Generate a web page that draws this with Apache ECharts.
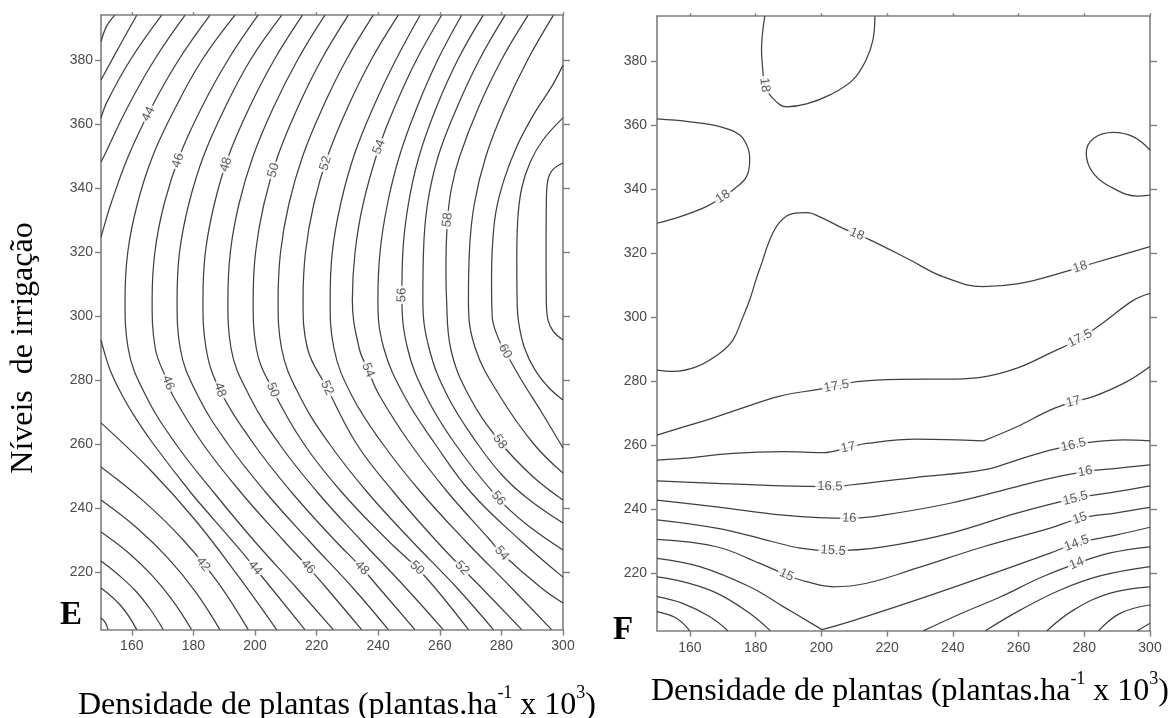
<!DOCTYPE html>
<html><head><meta charset="utf-8">
<script src="https://cdn.jsdelivr.net/npm/echarts@6/dist/echarts.min.js"></script>
<style>html,body{margin:0;padding:0;background:#fff}#c{width:1169px;height:718px}</style>
</head><body><div id="c"></div>
<script>
// ---------- axes ----------
const xTicks = [160,180,200,220,240,260,280,300];
const yTicks = [220,240,260,280,300,320,340,360,380];
const xRange = [150,300];
const yRange = [202,394];

// ---------- panel E : contour lines [x, y] ----------
const e37 = [[150,205.6],[151.4,204.2],[152.3,202]];
const e38 = [[150,215],[156.6,209.3],[161.6,202]];
const e39 = [[150,223.4],[155.9,218.9],[161.4,213.9],[166.1,208.2],[170.2,202]];
const e40 = [[150,232.5],[158.7,226.2],[166.5,219],[173.4,210.9],[179.4,202]];
const e41 = [[150,242.5],[161.4,234],[171.6,224.5],[180.7,213.8],[188.6,202]];
const e42 = [[150,252.8],[164,242],[176.7,230],[188,216.7],[197.8,202]];
const e40u = [[154.5,394],[151.8,390.5],[150,385.7]];
const e41u = [[161.6,394],[155.8,384],[150,373.75]];
const e42u = [[169.7,394],[159.5,380],[152,367],[150,361.9]];
const e43u = [[177.3,394],[167.3,380],[158.5,365],[151,350],[150,348.1]];
const e43 = [[150,266.6],[166.1,251.8],[180.7,236.1],[194.1,219.3],[207,202]];
const e44u = [[185.4,394],[175.2,380],[166.3,365],[158.9,350],[153.2,335],[151,328],[150,324.7]];
const e44 = [[150,292.5],[151,289],[153,283],[157,275],[161.3,268],[167,260],[179,245],[187,236],[194.2,228],[200,221.25],[216.2,202]];
const e45 = [[193.5,394],[182.8,380],[174.1,365],[166.8,350],[161.8,335],[158.7,320],[157.8,305],[158.8,290],[164.6,275],[174.3,260],[186.5,245],[199.5,230],[213.5,215],[225.4,202]];
const e46 = [[201,394],[191.2,380],[182.6,365],[175.5,350],[170.5,335],[167.5,320],[166.6,305],[167.6,290],[171.8,279.1],[173.4,275],[183.1,260],[195.3,245],[209.1,230],[217.2,221.6],[223.2,215],[234.6,202]];
const e47 = [[208.7,394],[198.5,380],[190.2,365],[183.3,350],[178.5,335],[175.5,320],[174.7,305],[175.7,290],[181.5,275],[191.2,260],[203.4,245],[217.3,230],[231.8,215],[243.3,202]];
const e48 = [[215.4,394],[206.2,380],[198.1,365],[191.4,350],[186.8,335],[183.9,320],[183.1,305],[184.1,290],[188.6,276.9],[199.6,260],[211.8,245],[225.8,230],[234.7,221.25],[240.3,215],[251.9,202]];
const e49 = [[222.7,394],[213.8,380],[205.9,365],[199.4,350],[194.8,335],[192,320],[191.2,305],[192.2,290],[198.2,275],[207.9,260],[220.2,245],[234.3,230],[249,215],[261.1,202]];
const e50 = [[230.3,394],[221.5,380],[213.8,365],[207.4,350],[202.9,335],[200.2,320],[199.4,305],[200.4,290],[205.8,276.9],[215.9,260],[228.1,245],[243,230],[252.6,221.25],[258.5,215],[269.3,202]];
const e51 = [[238.4,394],[229.6,380],[221.9,365],[215.5,350],[211,335],[208.3,320],[207.5,305],[208.6,290],[214.5,275],[224.2,260],[236.4,245],[250.6,230],[265.6,215],[277.4,202]];
const e52 = [[246.5,394],[237.7,380],[230,365],[223.6,350],[219.1,335],[216.4,320],[215.6,305],[217,290],[223.4,277.5],[233,260],[245,245],[258.6,230],[267.2,221.25],[273.6,215],[286.6,202]];
const e53 = [[253.6,394],[245.7,380],[238.3,365],[232.1,350],[227.8,335],[225.1,320],[224.4,305],[225.6,290],[231.5,275],[241.5,260],[253.8,245],[268,230],[283.3,215],[296.3,202]];
const e54 = [[260.6,394],[252.4,380],[245.2,365],[240.3,352.8],[235.1,335],[232.5,320],[231.6,305],[233.8,290],[236.7,283.1],[240.5,275],[250.5,260],[262.5,245],[276.3,230],[280.1,225.8],[293,215],[300,210.3]];
const e55 = [[267.1,394],[259.3,380],[252.5,365],[246.9,350],[243,335],[240.6,320],[239.9,305],[241.8,290],[248.5,275],[258.5,260],[270,245],[286,230],[300,218.4]];
const e56 = [[274.1,394],[265.8,380],[258.8,365],[253.3,350],[249.8,335],[248,320],[247.7,306.6],[249.5,290],[255.5,275],[265,260],[279,243],[288,235],[300,226.9]];
const e57 = [[281.2,394],[272.8,380],[265.5,365],[259.5,350],[256,335],[254.7,320],[254.5,305],[256.5,290],[262.5,275],[272.3,260],[280.5,250],[288.5,243],[300,235.3]];
const e58 = [[288.7,394],[280,380],[272.5,365],[266.5,350],[263.8,340],[262.5,330],[262,315],[262.2,305],[263.5,290],[269.5,275],[279.5,260.7],[290,250],[300,242.5]];
const e59 = [[296.9,394],[288.5,380],[281,365],[275,350],[271.2,335],[269.6,320],[269.3,305],[271.5,290],[279.5,275],[290.5,260],[300,250.9]];
const e60 = [[300,378.4],[296.5,372],[290.5,363],[285,353],[281,343],[278.3,333],[277.1,322],[276.8,311],[277,300],[279,293],[281.2,289],[286.5,280],[293,270],[300,258.75]];
const e61 = [[300,361.9],[293.5,355],[289.3,348],[286.6,340],[285.3,330],[285,318],[285.1,305],[285.6,298],[287.5,290],[291,283],[295.5,277.5],[300,273.75]];
const e62 = [[300,347.8],[296.5,345.5],[295,342],[294.6,336],[294.5,320],[294.6,304],[295.2,298.5],[297,295],[300,292.5]];

const contoursE = [[37,e37],[38,e38],[39,e39],[40,e40],[41,e41],[42,e42],[40,e40u],[41,e41u],[42,e42u],
  [43,e43u],[43,e43],[44,e44u],[44,e44],[45,e45],[46,e46],[47,e47],[48,e48],[49,e49],[50,e50],[51,e51],
  [52,e52],[53,e53],[54,e54],[55,e55],[56,e56],[57,e57],[58,e58],[59,e59],[60,e60],[61,e61],[62,e62]];

// contour labels E: [level, x, y]
const labelsE = [[44,167.5,362.2],[46,176.6,348.1],[48,191.2,347.2],[50,205.8,345.6],[52,222.7,347.8],[54,240.3,352.8],
  [58,262.7,330],[56,247.7,306.6],[60,281.5,289.1],
  [46,171.8,279.1],[48,188.6,276.9],[50,205.8,276.9],[52,223.4,277.5],[54,236.7,283.1],
  [58,279.5,260.7],[56,279,243],[54,280.1,225.8],
  [42,182.1,221.6],[44,200,221.25],[46,217.2,221.6],[48,234.7,221.25],[50,252.6,221.25],[52,267.2,221.25]];

// ---------- panel F : contour lines [x, y] ----------
const f18a = [[182.8,394],[181.8,383.4],[182.2,377.2],[182.8,372.5],[185.2,368.4],[189.4,365.7],[195.5,366.6],[202.6,369.4],[209.6,374.1],[213.6,380.3],[215.7,386.6],[216.3,394]];
const f18b = [[150,361.9],[160,361],[169.1,359.5],[175.2,356.9],[177.7,352.7],[178.2,349],[177.2,343.8],[173.1,339.7],[170.1,337.6],[165,334.5],[156.9,331.3],[150,329.3]];
const f18c = [[150,283.4],[154.8,283],[162.1,284.5],[169.1,288.7],[173.1,292.8],[175.8,299.1],[178.2,305.3],[180.1,311.6],[181.9,316.9],[184.3,324.1],[187.4,329.7],[191.3,332.3],[195.6,332.6],[200.5,330.8],[206.6,327.7],[214.8,324.1],[227,317.8],[237,312.6],[249.2,309.5],[260.5,310.5],[272.7,313.7],[282.7,316.8],[300,322]];
const f18d = [[300,352.2],[295,356.3],[288.9,357.7],[282.8,355.8],[280.6,351.2],[282.8,344.9],[288.9,340.2],[296,337.8],[300,338.1]];
const f175 = [[150,263.1],[156.9,265.3],[166,268.1],[175.2,271.3],[187.4,275.3],[198.6,277.3],[204.7,278.4],[210.8,279.8],[224,280.5],[239,280.6],[249,281.2],[259.5,284],[269.6,288.7],[278.7,293.3],[284.8,297.5],[294.9,305.2],[300,307.4]];
const f17a = [[150,255.3],[157.9,255.8],[173.1,257.4],[188.4,257.9],[200.6,257.6],[208.2,259.2],[213.8,260.5],[229,261.8],[249.3,261.3]];
const f17b = [[249.3,261.3],[259.5,265.7],[269.6,270.9],[276.6,273.5],[282.7,275.1],[293,279.8],[300,284.5]];
const f165 = [[150,248.8],[168.1,248],[188.4,247.2],[202.6,247],[208.7,247.5],[229,249.9],[249.3,252.2],[259.5,255.3],[269.6,258.4],[276.7,260],[282.8,261],[291.9,261.6],[300,261.3]];
const f16 = [[150,242.8],[168.1,240.7],[188.4,238.1],[208.5,237.1],[218.8,238.1],[239.2,241.8],[259.5,247],[269.6,249.6],[280.3,251.7],[289.9,252.7],[300,253.8]];
const f155 = [[150,236.6],[168.1,234],[183.3,230.3],[193.5,227.8],[203.6,227],[218.8,228.2],[239.2,232.4],[259.5,238.7],[277.3,243.3],[289.9,245.4],[300,247.2]];
const f15 = [[150,230.5],[168.1,228.2],[181.3,223],[189.4,219.4],[195.5,217.3],[203.6,215.7],[213.8,216.8],[229,221.5],[249.3,228.2],[269.6,234],[278.7,237.1],[289.9,238.8],[300,240.5]];
const f145a = [[150,224.6],[163,222],[178.2,215.7],[188.4,209.5],[200.2,202.3]];
const f145b = [[200.2,202.3],[208.7,204.8],[229,211.6],[249.3,218.8],[269.6,226.2],[277.7,229.3],[289.9,231.9],[300,234.3]];
const f14a = [[150,218.8],[157.8,217.3],[168.2,213.7],[178.2,207.4],[184.5,201.9]];
const f14b = [[231,201.9],[242.2,207.2],[254.4,212.5],[266.6,218.5],[277.7,223],[287.9,226.3],[300,228.2]];
const f135a = [[150,212.6],[157.8,210.5],[166.1,206.3],[171.6,201.9]];
const f135b = [[249.8,201.9],[260.5,208.4],[272.7,214.7],[284.8,219.1],[300,222]];
const f13a = [[150,207.9],[156,205.8],[160,201.9]];
const f13b = [[268.6,201.9],[276.7,208.4],[287.9,213.7],[300,215.7]];
const f125 = [[284.3,201.9],[290.9,207.4],[300,210]];
const f12 = [[296,201.9],[300,204.3]];

const contoursF = [[18,f18a],[18,f18b],[18,f18c],[18,f18d],[17.5,f175],[17,f17a],[17,f17b],[16.5,f165],[16,f16],
  [15.5,f155],[15,f15],[14.5,f145a],[14.5,f145b],[14,f14a],[14,f14b],[13.5,f135a],[13.5,f135b],[13,f13a],[13,f13b],
  [12.5,f125],[12,f12]];

const labelsF = [[18,182.8,372.5],[18,170.1,337.6],[18,210.7,325.6],[18,278.7,315.7],[17.5,204.6,278.4],[17.5,278.7,293.3],
  [17,208.2,259],[17,276.7,273.5],[16.5,202.6,247],[16.5,276.7,260],[16,208.5,237.1],[16,280.3,251.7],
  [15.5,203.6,227],[15.5,277.3,243.3],[15,189.4,219.4],[15,278.7,237.1],[14.5,277.7,229.3],[14,277.7,223]];

// ---------- chart ----------
const chart = echarts.init(document.getElementById('c'), null, {renderer:'canvas', width:1169, height:718});
const AX = '#7f7f7f';
const LBL = {color:'#4a4a4a', fontSize:14, fontFamily:'"Liberation Sans", Arial, sans-serif'};
function mkX(g, pos, show, len, margin){
  return {type:'value', gridIndex:g, position:pos, min:xRange[0], max:xRange[1],
    axisLine:{show:true, onZero:false, lineStyle:{color:AX, width:1.6}},
    axisTick:{show:true, inside:false, length:len, customValues:xTicks, lineStyle:{color:AX, width:1.4}},
    axisLabel:Object.assign({show:show, customValues:xTicks, margin:margin}, LBL),
    splitLine:{show:false}};
}
function mkY(g, pos, show, len, margin){
  return {type:'value', gridIndex:g, position:pos, min:yRange[0], max:yRange[1],
    axisLine:{show:true, onZero:false, lineStyle:{color:AX, width:1.6}},
    axisTick:{show:true, inside:false, length:len, customValues:yTicks, lineStyle:{color:AX, width:1.4}},
    axisLabel:Object.assign({show:show, customValues:yTicks, margin:margin}, LBL),
    splitLine:{show:false}};
}
function lineS(pts, ai){
  return {type:'line', xAxisIndex:ai, yAxisIndex:ai, data:pts, smooth:0.4, symbol:'none', silent:true,
    lineStyle:{color:'#404040', width:1.25}, z:2, clip:true};
}
function labS(id, ai){
  return {id:id, type:'scatter', xAxisIndex:ai, yAxisIndex:ai, data:[], symbol:'circle', symbolSize:1, silent:true, z:10,
    itemStyle:{color:'rgba(0,0,0,0)'},
    label:{show:true, position:'inside', formatter:'{b}', color:'#333', fontSize:13,
      fontFamily:'"Liberation Sans", Arial, sans-serif', backgroundColor:'#fff', padding:[0,2]}};
}
const series = [];
contoursE.forEach(c => series.push(lineS(c[1], 0)));
series.push(labS('labE', 0));
const firstF = series.length;
contoursF.forEach(c => series.push(lineS(c[1], 2)));
series.push(labS('labF', 2));

const serif = '"Liberation Serif", "Times New Roman", serif';
const titleRich = {
  n:{fontSize:32, fontFamily:serif, lineHeight:37, verticalAlign:'bottom', color:'#000'},
  s:{fontSize:18, fontFamily:serif, lineHeight:22, verticalAlign:'top', color:'#000'}
};
const xTitle = '{n|Densidade de plantas (plantas.ha}{s|-1}{n| x 10}{s|3}{n|)}';

chart.setOption({
  animation:false,
  backgroundColor:'#fff',
  grid:[{left:101, top:15.2, width:462, height:614.4, containLabel:false, outerBoundsMode:'none'},
        {left:657, top:16.2, width:493, height:614.4, containLabel:false, outerBoundsMode:'none'}],
  xAxis:[mkX(0,'bottom',true,6,10), mkX(0,'top',false,3,8), mkX(1,'bottom',true,6,11), mkX(1,'top',false,3,8)],
  yAxis:[mkY(0,'left',true,6,8), mkY(0,'right',false,7,8), mkY(1,'left',true,6,10), mkY(1,'right',false,7,8)],
  series: series,
  graphic:[
    {type:'text', x:24, y:348, rotation:Math.PI/2,
      style:{text:'Níveis  de irrigação', fontSize:32, fontFamily:serif, fill:'#000', align:'center', verticalAlign:'middle', textAlign:'center', textVerticalAlign:'middle'}},
    {type:'text', x:337, y:703, style:{text:xTitle, rich:titleRich, align:'center', verticalAlign:'middle', textAlign:'center', textVerticalAlign:'middle'}},
    {type:'text', x:910, y:689, style:{text:xTitle, rich:titleRich, align:'center', verticalAlign:'middle', textAlign:'center', textVerticalAlign:'middle'}},
    {type:'text', x:60, y:615, style:{text:'E', fontSize:33, fontWeight:'bold', fontFamily:serif, fill:'#000', align:'left', verticalAlign:'middle', textAlign:'left', textVerticalAlign:'middle'}},
    {type:'text', x:613, y:630, style:{text:'F', fontSize:33, fontWeight:'bold', fontFamily:serif, fill:'#000', align:'left', verticalAlign:'middle', textAlign:'left', textVerticalAlign:'middle'}}
  ]
});

function place(labels, contours, sIdx){
  const finder = {seriesIndex:sIdx};
  return labels.map(([lev, x, y]) => {
    const p = chart.convertToPixel(finder, [x, y]);
    let best = null;
    contours.forEach(([l, pts]) => {
      if (l !== lev) return;
      const px = pts.map(q => chart.convertToPixel(finder, q));
      for (let i = 0; i < px.length - 1; i++) {
        const a = px[i], b = px[i+1];
        const dx = b[0]-a[0], dy = b[1]-a[1];
        const L2 = dx*dx + dy*dy; if (!L2) continue;
        let t = ((p[0]-a[0])*dx + (p[1]-a[1])*dy) / L2;
        t = Math.max(0, Math.min(1, t));
        const cx = a[0]+t*dx, cy = a[1]+t*dy;
        const d = (p[0]-cx)*(p[0]-cx) + (p[1]-cy)*(p[1]-cy);
        if (!best || d < best.d) best = {d, cx, cy, dx, dy};
      }
    });
    let ang = Math.atan2(-best.dy, best.dx) * 180 / Math.PI;
    if (ang > 90) ang -= 180;
    if (ang <= -90) ang += 180;
    const v = chart.convertFromPixel(finder, [best.cx, best.cy]);
    return {value:v, name:String(lev), label:{rotate:ang}};
  });
}
chart.setOption({series:[
  {id:'labE', data:place(labelsE, contoursE, 0)},
  {id:'labF', data:place(labelsF, contoursF, firstF)}
]});
</script>
</body></html>
